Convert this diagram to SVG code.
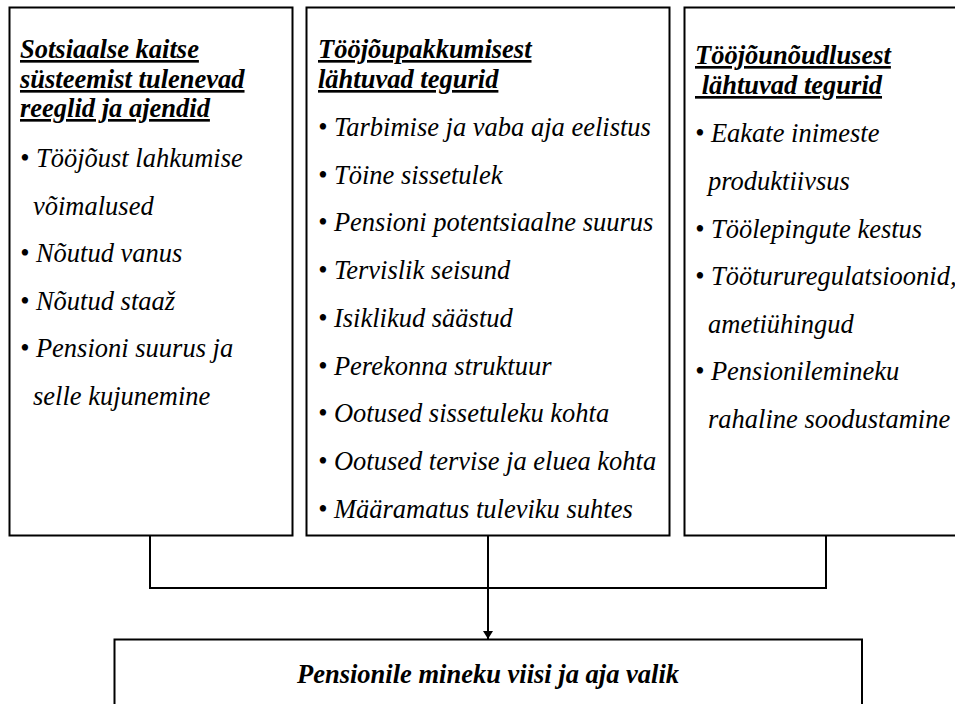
<svg xmlns="http://www.w3.org/2000/svg" width="955" height="704" viewBox="0 0 955 704">
<style>
  .box { fill: #fff; stroke: #000; stroke-width: 2; }
  .conn { fill: none; stroke: #000; stroke-width: 2; }
  text { font-family: "Liberation Serif", "Times New Roman", serif; font-size: 26.5px; fill: #000; font-style: italic; }
  .hd { font-weight: bold; text-decoration: underline; text-decoration-thickness: 2.5px; }
  .res { font-weight: bold; }
</style>
<defs>
  <marker id="arr" markerWidth="8" markerHeight="10" refX="8" refY="5" orient="auto" markerUnits="userSpaceOnUse">
    <path d="M0,0 L8,5 L0,10 Z" fill="#000"/>
  </marker>
</defs>
<rect width="955" height="704" fill="#fff"/>

<g id="connectors">
  <polyline class="conn" points="150,536 150,588 826,588 826,536"/>
  <line class="conn" x1="488" y1="536" x2="488" y2="639" marker-end="url(#arr)"/>
</g>

<g id="node-sotsiaalne">
  <rect class="box" x="9.5" y="7.5" width="283" height="528"/>
  <text class="hd" x="20" y="58">Sotsiaalse kaitse</text>
  <text class="hd" x="20" y="88">süsteemist tulenevad</text>
  <text class="hd" x="20" y="117">reeglid ja ajendid</text>
  <text x="20" y="167">• Tööjõust lahkumise</text>
  <text x="33" y="214.5">võimalused</text>
  <text x="20" y="262">• Nõutud vanus</text>
  <text x="20" y="309.5">• Nõutud staaž</text>
  <text x="20" y="357">• Pensioni suurus ja</text>
  <text x="33" y="404.5">selle kujunemine</text>
</g>

<g id="node-pakkumine">
  <rect class="box" x="306.5" y="7.5" width="363" height="528"/>
  <text class="hd" x="318" y="58">Tööjõupakkumisest</text>
  <text class="hd" x="318" y="88">lähtuvad tegurid</text>
  <text x="318" y="136">• Tarbimise ja vaba aja eelistus</text>
  <text x="318" y="183.7">• Töine sissetulek</text>
  <text x="318" y="231.4">• Pensioni potentsiaalne suurus</text>
  <text x="318" y="279.1">• Tervislik seisund</text>
  <text x="318" y="326.8">• Isiklikud säästud</text>
  <text x="318" y="374.5">• Perekonna struktuur</text>
  <text x="318" y="422.2">• Ootused sissetuleku kohta</text>
  <text x="318" y="469.9">• Ootused tervise ja eluea kohta</text>
  <text x="318" y="517.6">• Määramatus tuleviku suhtes</text>
</g>

<g id="node-noudlus">
  <rect class="box" x="684.5" y="7.5" width="300" height="528"/>
  <text class="hd" x="695" y="64">Tööjõunõudlusest</text>
  <text class="hd" x="695" y="94" xml:space="preserve"> lähtuvad tegurid</text>
  <text x="695" y="142">• Eakate inimeste</text>
  <text x="708" y="190">produktiivsus</text>
  <text x="695" y="238">• Töölepingute kestus</text>
  <text x="695" y="285">• Töötururegulatsioonid,</text>
  <text x="708" y="333">ametiühingud</text>
  <text x="695" y="380">• Pensionilemineku</text>
  <text x="708" y="428">rahaline soodustamine</text>
</g>

<g id="node-valik">
  <rect class="box" x="114.5" y="639.5" width="747.5" height="80"/>
  <text class="res" x="488" y="683" text-anchor="middle">Pensionile mineku viisi ja aja valik</text>
</g>
</svg>
